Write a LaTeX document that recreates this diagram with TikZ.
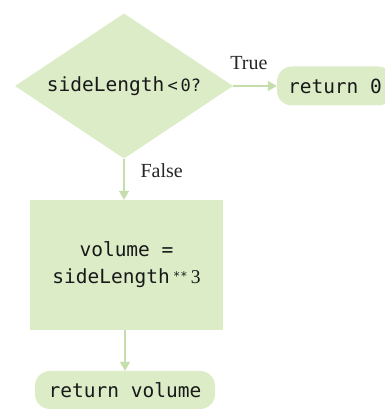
\documentclass[tikz,border=0pt]{standalone}
\usepackage{fontspec}
\setmainfont{Liberation Serif}
\setmonofont{DejaVu Sans Mono}
\usetikzlibrary{shapes.geometric,arrows.meta}
\definecolor{boxfill}{RGB}{219,236,199}
\definecolor{linegreen}{RGB}{196,222,172}
\tikzset{
  codetext/.style={font=\fontsize{19.5}{27}\selectfont\ttfamily, text=black!90},
  labeltext/.style={font=\fontsize{20}{24}\selectfont, text=black!85},
  decision/.style={shape=diamond, fill=boxfill, inner sep=0pt, aspect=1.5,
    minimum width=218pt, minimum height=145pt, codetext},
  process/.style={rectangle, fill=boxfill, inner sep=0pt, align=center, codetext},
  terminal/.style={rectangle, rounded corners=15pt, fill=boxfill, inner sep=0pt, codetext},
  flow/.style={draw=linegreen, line width=1.4pt,
    -{Triangle[width=10pt,length=9pt,fill=linegreen]}, shorten >=0pt}
}
\begin{document}
\begin{tikzpicture}[x=1pt,y=1pt]
  \useasboundingbox (0,0) rectangle (385,410);
  \clip (0,0) rectangle (385,410);
  \fill[white] (0,0) rectangle (385,410);
  \node[decision] (dec) at (124,324) {sideLength\,{\fontsize{17}{20}\selectfont<\,0?}};
  \node[terminal, minimum width=116pt, minimum height=39pt] (ret0) at (335,324) {return 0};
  \node[process, minimum width=193pt, minimum height=130pt] (calc) at (126.5,145)
    {volume =\\ sideLength\,{\fontsize{12}{14}\selectfont\raisebox{3pt}{**}}\,{\rmfamily 3}};
  \node[terminal, minimum width=180pt, minimum height=38pt] (retv) at (125,20) {return volume};
  \draw[flow] (dec.east) -- (ret0.west);
  \draw[flow] (dec.south) -- (calc.north -| dec.south);
  \draw[flow] (calc.south -| retv.north) -- (retv.north);
  \node[labeltext] (truelbl) at (249,347) {True};
  \node[labeltext, anchor=west] (falselbl) at (137,239) {False};
\end{tikzpicture}
\end{document}
